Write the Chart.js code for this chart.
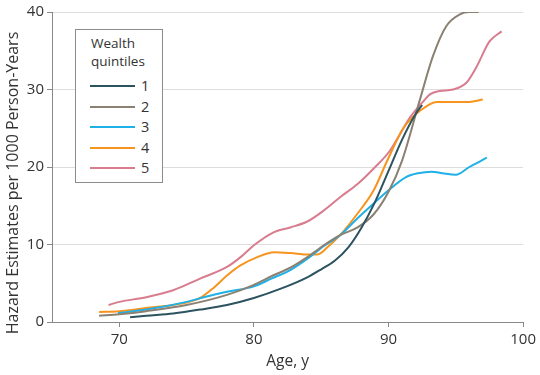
<!DOCTYPE html>
<html>
<head>
<meta charset="utf-8">
<script src="https://cdn.jsdelivr.net/npm/chart.js@4.4.1/dist/chart.umd.min.js"></script>
<style>
  html, body { margin: 0; padding: 0; background: #fff; }
  #wrap { position: relative; width: 540px; height: 375px; }
  #legend {
    position: absolute; left: 75px; top: 29px; width: 88px; height: 154px;
    border: 1px solid #8c8c8c; background: #fff; box-sizing: border-box;
    font-family: "Open Sans", sans-serif; font-size: 13.5px; color: #333;
  }
  #legend .title { position: absolute; left: 15px; top: 4px; line-height: 18px; }
  #legend .item { position: absolute; left: 14px; height: 20px; width: 70px; }
  #legend .item span.ln { position: absolute; left: 0; top: 9px; width: 45px; height: 2px; }
  #legend .item span.lb { position: absolute; left: 51px; top: 0; line-height: 20px; font-size: 14.5px; }
</style>
</head>
<body>
<div id="wrap">
  <canvas id="c" width="540" height="375"></canvas>
  <div id="legend"></div>
</div>
<script>
const legendTitle = ["Wealth", "quintiles"];
const seriesNames = ["1", "2", "3", "4", "5"];
const seriesColors = ["#2c5360", "#8b8172", "#1eb0e6", "#f7941e", "#d87c8e"];
const xTicks = [70, 80, 90, 100];
const yTicks = [0, 10, 20, 30, 40];
const xTitle = "Age, y";
const yTitle = "Hazard Estimates per 1000 Person-Years";

const q1Age = [70.8, 72, 74, 76, 78, 80, 82, 84, 85, 86, 87, 88, 89, 90, 91, 92, 92.5];
const q1Val = [0.6, 0.8, 1.1, 1.6, 2.2, 3.1, 4.3, 5.8, 6.8, 7.9, 9.6, 12.2, 15.5, 19.5, 23.5, 26.8, 28.0];

const q2Age = [68.5, 70, 72, 75, 78, 80, 81.3, 82.7, 84, 85.2, 86.4, 87.7, 88.9, 90, 91, 92.3, 93.3, 94.3, 95.3, 96, 96.7];
const q2Val = [0.8, 1.0, 1.4, 2.2, 3.5, 4.8, 5.9, 7.0, 8.4, 9.9, 11.2, 12.2, 13.9, 16.8, 20.8, 28.5, 34.3, 38.2, 39.7, 40.0, 40.0];

const q3Age = [69.9, 72, 75, 76.5, 78, 80, 81.3, 82.7, 84, 85.2, 86.4, 87.7, 88.9, 90, 91.3, 92.2, 93.2, 94, 95, 96, 97.3];
const q3Val = [1.15, 1.6, 2.6, 3.3, 3.9, 4.6, 5.6, 6.7, 8.2, 9.8, 11.2, 13.4, 15.3, 17.0, 18.7, 19.2, 19.4, 19.2, 19.0, 20.0, 21.2];

const q4Age = [68.5, 70, 72, 74, 75, 76, 77, 78, 79, 80.3, 81.5, 82.7, 84, 84.7, 85.5, 86.4, 87.7, 88.9, 89.9, 91.1, 92.3, 93.6, 94.8, 96, 97];
const q4Val = [1.3, 1.4, 1.8, 2.2, 2.5, 3.1, 4.4, 6.0, 7.3, 8.4, 9.0, 8.9, 8.7, 8.7, 9.7, 11.2, 14.0, 17.0, 20.8, 25.0, 27.2, 28.4, 28.4, 28.4, 28.7];

const q5Age = [69.2, 70, 72, 74, 76, 78, 79.1, 80, 81.5, 82.7, 84, 85.2, 86.4, 87.7, 88.9, 90.1, 91.6, 92.6, 93.1, 93.8, 94.8, 95.8, 96.5, 97.5, 98.4];
const q5Val = [2.2, 2.6, 3.2, 4.1, 5.6, 7.1, 8.5, 9.9, 11.6, 12.2, 13.0, 14.4, 16.1, 17.8, 19.8, 22.1, 26.4, 28.5, 29.4, 29.8, 30.0, 30.9, 32.8, 36.2, 37.5];

const ages = [q1Age, q2Age, q3Age, q4Age, q5Age];
const vals = [q1Val, q2Val, q3Val, q4Val, q5Val];

const FONT = "'Open Sans', sans-serif";
const datasets = seriesNames.map((n, i) => ({
  label: n,
  data: ages[i].map((a, j) => ({ x: a, y: vals[i][j] })),
  borderColor: seriesColors[i],
  backgroundColor: seriesColors[i],
  borderWidth: 2,
  pointRadius: 0,
  cubicInterpolationMode: 'monotone',
  fill: false
}));

const yTitlePlugin = {
  id: 'yTitle',
  afterDraw(chart) {
    const ctx = chart.ctx;
    ctx.save();
    ctx.translate(13, 183);
    ctx.rotate(-Math.PI / 2);
    ctx.font = "16px " + FONT;
    ctx.fillStyle = '#333';
    ctx.textAlign = 'center';
    ctx.textBaseline = 'middle';
    ctx.fillText(yTitle, 0, 0);
    ctx.restore();
  }
};

new Chart(document.getElementById('c'), {
  type: 'line',
  data: { datasets },
  plugins: [yTitlePlugin],
  options: {
    responsive: false,
    animation: false,
    layout: { padding: { top: 11, right: 16, left: 0, bottom: 0 } },
    plugins: { legend: { display: false }, tooltip: { enabled: false } },
    scales: {
      x: {
        type: 'linear', min: 65, max: 100,
        afterBuildTicks: s => { s.ticks = xTicks.map(v => ({ value: v })); },
        afterFit: s => { s.height = 53; },
        grid: { display: true, drawOnChartArea: false, drawTicks: true, tickLength: 5, color: '#888' },
        border: { color: '#888', width: 1 },
        ticks: { font: { family: FONT, size: 15 }, color: '#333', padding: 4, maxRotation: 0 },
        title: { display: true, text: xTitle, font: { family: FONT, size: 15.5 }, color: '#333', padding: { top: 2 } }
      },
      y: {
        type: 'linear', min: 0, max: 40,
        afterBuildTicks: s => { s.ticks = yTicks.map(v => ({ value: v })); },
        afterFit: s => { s.width = 52; },
        grid: { color: '#dddddd', lineWidth: 1, tickLength: 5, tickColor: '#888', drawTicks: true },
        border: { color: '#888', width: 1 },
        ticks: { font: { family: FONT, size: 15 }, color: '#333', padding: 3 },
        title: { display: false }
      }
    }
  }
});

const lg = document.getElementById('legend');
let html = '<div class="title">' + legendTitle.join('<br>') + '</div>';
seriesNames.forEach((n, i) => {
  const top = 46 + i * 20.5;
  html += '<div class="item" style="top:' + top + 'px"><span class="ln" style="background:' + seriesColors[i] + '"></span><span class="lb">' + n + '</span></div>';
});
lg.innerHTML = html;
</script>
</body>
</html>
